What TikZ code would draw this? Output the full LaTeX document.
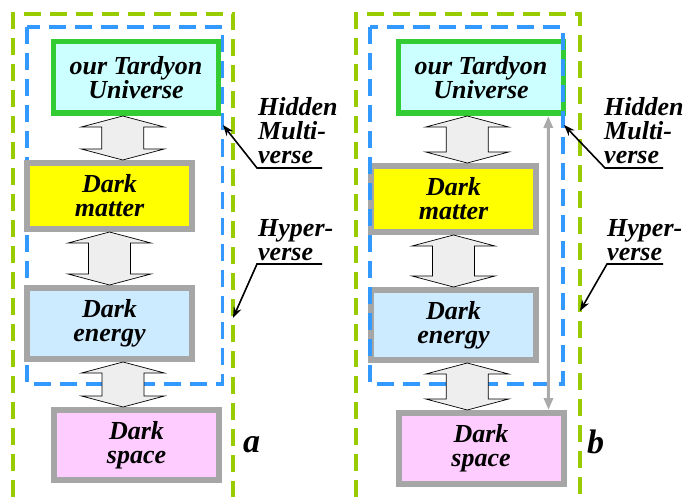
\documentclass[tikz,border=0pt]{standalone}
\usepackage{fontspec}
\setmainfont{LiberationSerif}[Extension=.ttf, UprightFont=*-Regular, BoldFont=*-Bold, ItalicFont=*-Italic, BoldItalicFont=*-BoldItalic]
\usetikzlibrary{arrows.meta,calc}
\definecolor{gdash}{HTML}{99CC00}
\definecolor{bdash}{HTML}{3399FF}
\definecolor{tgreen}{HTML}{33CC33}
\definecolor{tcyan}{HTML}{CCFFFF}
\definecolor{bgray}{HTML}{A6A6A6}
\definecolor{dmyellow}{HTML}{FFFF00}
\definecolor{delight}{HTML}{CCEBFF}
\definecolor{dspink}{HTML}{FFCCFF}
\definecolor{agray}{HTML}{EEEEEE}
\definecolor{lgray}{HTML}{AAAAAA}
\newcommand\dblarrow[2]{%
  \coordinate (m) at ($(#1.south)!0.5!(#2.north)$);
  \coordinate (t) at (m |- #1.south);
  \coordinate (b) at (m |- #2.north);
  \draw[dblarr] (t) -- ($(t)+(41.5,11)$) -- ($(t)+(21,11)$) -- ($(b)+(21,-11)$)
    -- ($(b)+(41.5,-11)$) -- (b) -- ($(b)+(-41.5,-11)$) -- ($(b)+(-21,-11)$)
    -- ($(t)+(-21,11)$) -- ($(t)+(-41.5,11)$) -- cycle;}
\begin{document}
\begin{tikzpicture}[x=1pt,y=-1pt,
  txt/.style={font=\fontsize{26}{24}\selectfont\bfseries\itshape, align=center},
  tbox/.style={txt, draw=tgreen, fill=tcyan, line width=5.5pt, inner sep=0pt,
    minimum width=165pt, minimum height=71.5pt},
  gbox/.style={txt, draw=bgray, line width=6pt, inner sep=0pt, minimum width=165pt},
  gdashline/.style={draw=gdash, line width=3.5pt, dash pattern=on 17pt off 9pt},
  bdashline/.style={draw=bdash, line width=3.5pt, dash pattern=on 17pt off 9pt},
  dblarr/.style={draw=black, fill=agray, line width=0.7pt, line join=miter},
  lbl/.style={font=\fontsize{26}{24}\selectfont\bfseries\itshape, align=left,
    inner sep=0pt, anchor=south west},
  ptr/.style={-{Stealth[length=11pt,width=8pt]}, line width=1.6pt},
  gline/.style={{Triangle[length=12pt,width=9pt]}-{Triangle[length=12pt,width=9pt]},
    draw=lgray, line width=3pt},
  panel/.style={font=\fontsize{34}{34}\selectfont\bfseries\itshape, inner sep=0pt, anchor=base west}
]
\useasboundingbox (0,0) rectangle (687,497);
% ---------------- panel a ----------------
\draw[gdashline] (13,497) -- (13,14) -- (233,14) -- (233,497);
\draw[bdashline] (27,27) rectangle (222.5,384);
\node[tbox] (Ta) at (136,77.5) {our Tardyon\\Universe};
\node[gbox, fill=dmyellow, minimum height=66pt] (Ma) at (109.5,196) {Dark\\matter};
\node[gbox, fill=delight, minimum height=71pt] (Ea) at (109.5,323.5) {Dark\\energy};
\node[gbox, fill=dspink, minimum height=70pt] (Sa) at (136.5,445) {Dark\\space};
\dblarrow{Ta}{Ma}
\dblarrow{Ma}{Ea}
\dblarrow{Ea}{Sa}
\node[lbl] (ha) at (258,164) {Hidden\\Multi-\\verse};
\coordinate (hau) at (257,168);
\coordinate (hat) at (223,125);
\draw[ptr] ($(hau)+(65,0)$) -- (hau) -- (hat);
\node[lbl] (ya) at (258,261) {Hyper-\\verse};
\coordinate (yau) at (257,264);
\coordinate (yat) at (233,318);
\draw[ptr] ($(yau)+(65,0)$) -- (yau) -- (yat);
\node[panel] (pa) at (243,452) {a};
% ---------------- panel b ----------------
\draw[gdashline] (356,497) -- (356,14) -- (580,14) -- (580,497);
\node[tbox] (Tb) at (481,77.5) {our Tardyon\\Universe};
\node[gbox, fill=dmyellow, minimum height=66pt] (Mb) at (453.5,199) {Dark\\matter};
\node[gbox, fill=delight, minimum height=70pt] (Eb) at (453.5,325) {Dark\\energy};
\node[gbox, fill=dspink, minimum height=71pt] (Sb) at (481,448.5) {Dark\\space};
\draw[bdashline] (370,27) rectangle (563,384);
\dblarrow{Tb}{Mb}
\dblarrow{Mb}{Eb}
\dblarrow{Eb}{Sb}
\draw[gline] ($(Tb.south east)+(-18,0)$) -- ($(Sb.north east)+(-18,0)$);
\node[lbl] (hb) at (604,164) {Hidden\\Multi-\\verse};
\coordinate (hbu) at (605,168);
\coordinate (hbt) at (564,125);
\draw[ptr] ($(hbu)+(58,0)$) -- (hbu) -- (hbt);
\node[lbl] (yb) at (607,261) {Hyper-\\verse};
\coordinate (ybu) at (607,264);
\coordinate (ybt) at (580,311);
\draw[ptr] ($(ybu)+(56,0)$) -- (ybu) -- (ybt);
\node[panel] (pb) at (587,453) {b};
\end{tikzpicture}
\end{document}
